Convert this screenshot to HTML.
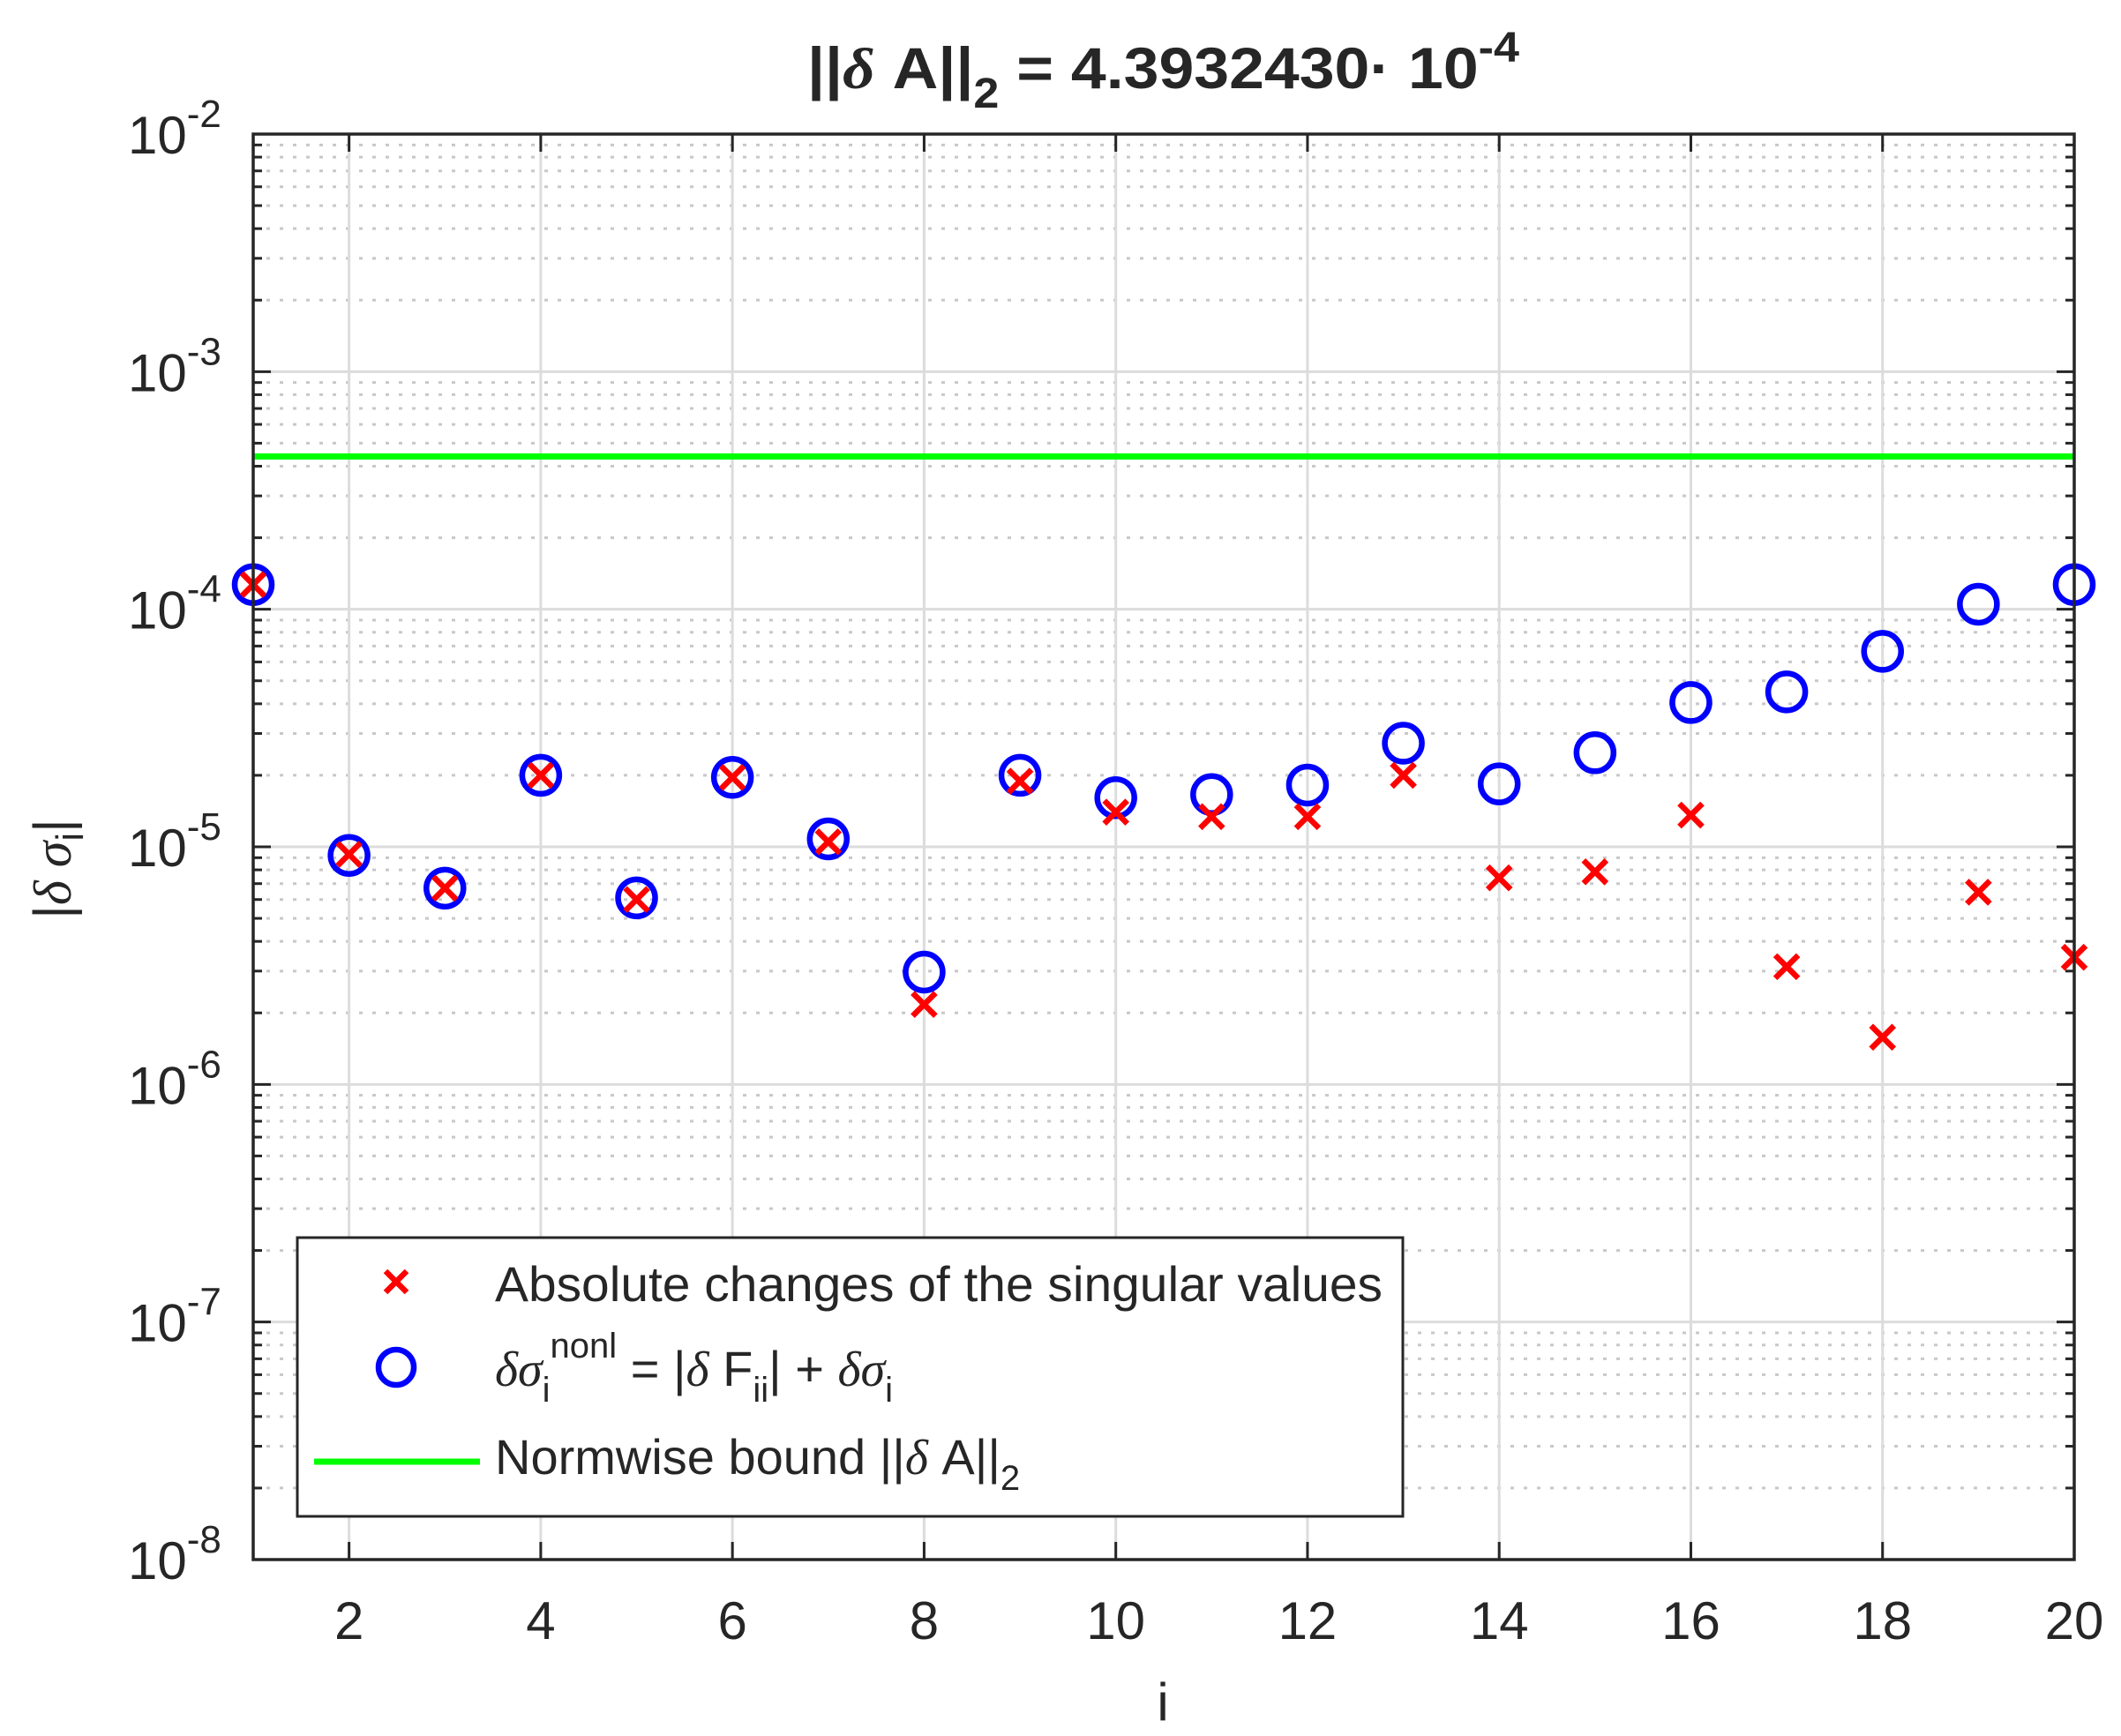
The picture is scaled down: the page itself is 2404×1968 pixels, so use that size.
<!DOCTYPE html>
<html><head><meta charset="utf-8"><style>html,body{margin:0;padding:0;background:#fff}svg{display:block}text{font-family:"Liberation Sans",sans-serif;fill:#262626}</style></head>
<body>
<svg id="chart" width="2404" height="1968" viewBox="0 0 2404 1968" xmlns="http://www.w3.org/2000/svg">
<rect x="0" y="0" width="2404" height="1968" fill="#fff"/>
<g id="grid"></g>
<line id="bound" stroke="#00ff00" stroke-width="7"/>
<g id="marks"></g>
<rect x="287" y="152" width="2064" height="1616" fill="none" stroke="#262626" stroke-width="3.5"/>
<g id="ticks"></g>
<text x="915" y="100" font-size="66" font-weight="bold" fill="#000" textLength="807" lengthAdjust="spacingAndGlyphs">||<tspan font-family="Liberation Serif" font-style="italic">δ</tspan> A||<tspan dy="22" font-size="48">2</tspan><tspan dy="-22"> = 4.3932430· 10</tspan><tspan dy="-30" font-size="48">-4</tspan></text>
<text x="1318" y="1950" font-size="60" text-anchor="middle">i</text>
<text transform="translate(80,985) rotate(-90)" font-size="60" text-anchor="middle">|<tspan font-family="Liberation Serif" font-style="italic">δ σ</tspan><tspan dy="14" font-size="44">i</tspan><tspan dy="-14">|</tspan></text>
<g>
<rect x="337" y="1403" width="1253" height="316" fill="#fff" stroke="#262626" stroke-width="3"/>
<g>
<path d="M437,1441 L461,1465 M461,1441 L437,1465" stroke="#ff0000" stroke-width="6.5"/>
<text x="561" y="1475" font-size="56" textLength="1006" lengthAdjust="spacingAndGlyphs">Absolute changes of the singular values</text>
</g>
<g>
<circle cx="449" cy="1550" r="20" fill="none" stroke="#0000ff" stroke-width="6.5"/>
<text x="561" y="1571" font-size="56"><tspan font-family="Liberation Serif" font-style="italic">δσ</tspan><tspan dy="18" font-size="40">i</tspan><tspan dy="-50" font-size="40">nonl</tspan><tspan dy="32"> = |</tspan><tspan font-family="Liberation Serif" font-style="italic">δ</tspan> F<tspan dy="18" font-size="40">ii</tspan><tspan dy="-18">| + </tspan><tspan font-family="Liberation Serif" font-style="italic">δσ</tspan><tspan dy="18" font-size="40">i</tspan></text>
</g>
<g>
<line x1="356" y1="1657" x2="544" y2="1657" stroke="#00ff00" stroke-width="7"/>
<text x="561" y="1671" font-size="56">Normwise bound ||<tspan font-family="Liberation Serif" font-style="italic">δ</tspan> A||<tspan dy="18" font-size="40">2</tspan></text>
</g>
</g>
</svg>
<script>
const indices=[1,2,3,4,5,6,7,8,9,10,11,12,13,14,15,16,17,18,19,20];
const absChanges=[1.27e-4,9.3e-6,6.7e-6,2.0e-5,6.0e-6,1.96e-5,1.05e-5,2.17e-6,1.89e-5,1.40e-5,1.34e-5,1.34e-5,2.0e-5,7.4e-6,7.85e-6,1.36e-5,3.13e-6,1.58e-6,6.44e-6,3.43e-6];
const nonlBound=[1.27e-4,9.2e-6,6.7e-6,2.0e-5,6.1e-6,1.96e-5,1.08e-5,2.97e-6,2.0e-5,1.61e-5,1.66e-5,1.82e-5,2.73e-5,1.84e-5,2.49e-5,4.05e-5,4.49e-5,6.65e-5,1.05e-4,1.27e-4];
const normBound=4.3932430e-4;
const xTicks=[2,4,6,8,10,12,14,16,18,20];
const yExps=[-8,-7,-6,-5,-4,-3,-2];
const NS='http://www.w3.org/2000/svg';
const L=287,R=2351,T=152,B=1768;
function xs(v){return L+(v-1)/(20-1)*(R-L);}
function ys(v){return B-(Math.log10(v)+8)/6*(B-T);}
function mk(tag,attrs,parent){const e=document.createElementNS(NS,tag);for(const k in attrs)e.setAttribute(k,attrs[k]);parent.appendChild(e);return e;}
const grid=document.getElementById('grid'),ticks=document.getElementById('ticks'),marks=document.getElementById('marks');
for(let e=-8;e<-2;e++){for(let m=2;m<=9;m++){const y=ys(m*Math.pow(10,e));
const g=mk('line',{x1:L,x2:R,y1:y,y2:y,stroke:'#c8c8c8','stroke-width':3,'stroke-dasharray':'4 11'},grid);


const t1=mk('line',{x1:L,x2:L+10,y1:y,y2:y,stroke:'#262626','stroke-width':3},ticks);


const t2=mk('line',{x1:R-10,x2:R,y1:y,y2:y,stroke:'#262626','stroke-width':3},ticks);

}}
yExps.forEach(e=>{const y=ys(Math.pow(10,e));
const g=mk('line',{x1:L,x2:R,y1:y,y2:y,stroke:'#dcdcdc','stroke-width':3},grid);


const t1=mk('line',{x1:L,x2:L+20,y1:y,y2:y,stroke:'#262626','stroke-width':3},ticks);


const t2=mk('line',{x1:R-20,x2:R,y1:y,y2:y,stroke:'#262626','stroke-width':3},ticks);


const tx=mk('text',{x:145,y:y+22,'font-size':60},ticks);


tx.innerHTML='10<tspan dy="-30" font-size="44">'+e+'</tspan>';});
xTicks.forEach(v=>{const x=xs(v);
const g=mk('line',{x1:x,x2:x,y1:T,y2:B,stroke:'#dcdcdc','stroke-width':3},grid);


const t1=mk('line',{x1:x,x2:x,y1:B-20,y2:B,stroke:'#262626','stroke-width':3},ticks);


const t2=mk('line',{x1:x,x2:x,y1:T,y2:T+20,stroke:'#262626','stroke-width':3},ticks);


const tx=mk('text',{x:x,y:1858,'font-size':60,'text-anchor':'middle'},ticks);


tx.textContent=v;});
const bl=document.getElementById('bound');const by=ys(normBound);
bl.setAttribute('x1',L);bl.setAttribute('x2',R);bl.setAttribute('y1',by);bl.setAttribute('y2',by);
indices.forEach((iv,k)=>{const x=xs(iv),y=ys(nonlBound[k]);
const c=mk('circle',{cx:x,cy:y,r:21,fill:'none',stroke:'#0000ff','stroke-width':6.5},marks);

});
indices.forEach((iv,k)=>{const x=xs(iv),y=ys(absChanges[k]),s=13;
const p=mk('path',{d:`M${x-s},${y-s} L${x+s},${y+s} M${x+s},${y-s} L${x-s},${y+s}`,stroke:'#ff0000','stroke-width':6.5},marks);

});
</script>
</body></html>
